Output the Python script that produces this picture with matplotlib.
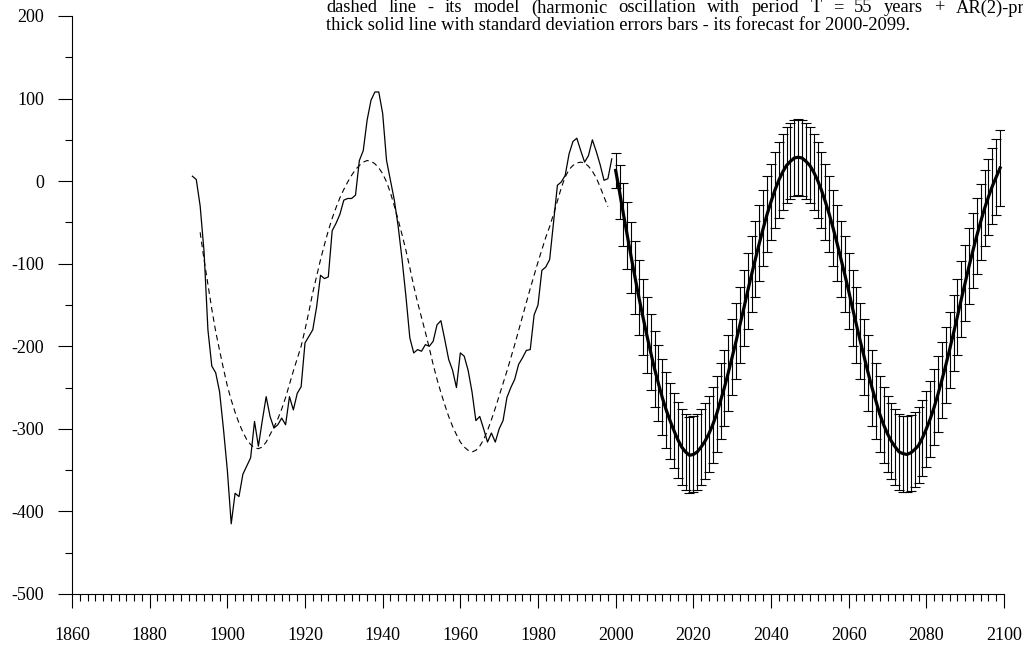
import matplotlib
matplotlib.use('Agg')
import matplotlib.pyplot as plt
from matplotlib.ticker import MultipleLocator

plt.rcParams['font.family'] = ['Liberation Serif', 'DejaVu Serif']
plt.rcParams['axes.unicode_minus'] = False

# observed series (thin solid line), 1891-1999
obs_start = 1891
obs_values = [
    6, 2, -30, -85, -180, -224, -232, -255, -300,            # 1891-1899
    -350, -415, -378, -382, -355, -345, -335, -291, -321, -290,  # 1900-1909
    -261, -285, -299, -295, -287, -295, -261, -277, -257, -249,  # 1910-1919
    -196, -188, -180, -152, -114, -118, -116, -60, -51, -40,     # 1920-1929
    -23, -21, -21, -17, 25, 37, 74, 98, 108, 108,                # 1930-1939
    82, 25, 1, -23, -55, -95, -140, -190, -208, -204,            # 1940-1949
    -206, -198, -200, -194, -174, -169, -192, -216, -229, -250,  # 1950-1959
    -208, -212, -229, -255, -290, -285, -300, -316, -305, -316,  # 1960-1969
    -300, -290, -262, -250, -240, -222, -214, -205, -204, -162,  # 1970-1979
    -150, -108, -104, -95, -50, -5, -1, 7, 33, 48,               # 1980-1989
    52, 37, 23, 31, 50, 36, 20, 1, 3, 27,                        # 1990-1999
]

# model (dashed line), 1893-1998
model_start = 1893
model_values = [
    -62, -95, -125, -155, -182, -205, -227,                      # 1893-1899
    -248, -265, -280, -293, -304, -313, -319, -323, -324, -322,  # 1900-1909
    -316, -307, -298, -288, -276, -262, -246, -230, -215, -200,  # 1910-1919
    -180, -158, -135, -115, -95, -77, -60, -45, -32, -20,        # 1920-1929
    -10, -1, 7, 14, 19, 23, 25, 24, 21, 16,                      # 1930-1939
    9, -1, -14, -30, -47, -65, -84, -105, -127, -147,            # 1940-1949
    -165, -183, -202, -222, -240, -256, -271, -285, -297, -307,  # 1950-1959
    -316, -322, -326, -328, -326, -321, -313, -302, -289, -275,  # 1960-1969
    -260, -245, -230, -214, -198, -181, -164, -147, -130, -114,  # 1970-1979
    -98, -83, -68, -55, -40, -24, -8, 5, 14, 19,                 # 1980-1989
    22, 23, 22, 18, 12, 4, -7, -19, -31,                         # 1990-1998
]

# forecast (thick line) with standard deviation, 2000-2099
fc_start = 2000
fc_values = [
    13, -13, -40, -66, -92, -117, -141, -164, -186, -207,        # 2000-2009
    -227, -245, -262, -277, -290, -302, -313, -322, -328, -332,  # 2010-2019
    -331, -328, -322, -315, -306, -295, -282, -266, -250, -232,  # 2020-2029
    -213, -194, -174, -154, -133, -113, -94, -75, -57, -40,      # 2030-2039
    -25, -11, 1, 11, 19, 24, 28, 29, 28, 24,                     # 2040-2049
    19, 11, 1, -11, -25, -40, -57, -75, -94, -113,               # 2050-2059
    -133, -154, -174, -194, -213, -232, -250, -266, -282, -295,  # 2060-2069
    -306, -315, -322, -328, -330, -331, -329, -325, -320, -311,  # 2070-2079
    -300, -288, -274, -258, -241, -223, -204, -184, -164, -143,  # 2080-2089
    -123, -103, -84, -66, -49, -33, -19, -6, 5, 16,              # 2090-2099
]
fc_errors = [21, 33, 38, 41, 43, 44, 45, 46] + [46] * 92

note_line1 = 'dashed line - its model (harmonic oscillation with period T = 55 years + AR(2)-process)'
note_line2 = 'thick solid line with standard deviation errors bars - its forecast for 2000-2099.'

obs_years = list(range(obs_start, obs_start + len(obs_values)))
model_years = list(range(model_start, model_start + len(model_values)))
fc_years = list(range(fc_start, fc_start + len(fc_values)))

W, H = 1023, 650
fig = plt.figure(figsize=(W / 100, H / 100), dpi=100)
ax = fig.add_axes([72 / W, 56 / H, 932 / W, 578 / H])

ax.plot(obs_years, obs_values, color='black', lw=0.9)
ax.plot(model_years, model_values, color='black', lw=0.8, dashes=(5, 3.5))
ax.errorbar(fc_years, fc_values, yerr=fc_errors, fmt='none', ecolor='black',
            elinewidth=0.8, capsize=3.5, capthick=0.8)
ax.plot(fc_years, fc_values, color='black', lw=2.3)

ax.set_xlim(1860, 2100)
ax.set_ylim(-500, 200)
for s in ('top', 'right'):
    ax.spines[s].set_visible(False)
for s in ('left', 'bottom'):
    ax.spines[s].set_linewidth(0.8)

ax.xaxis.set_major_locator(MultipleLocator(20))
ax.xaxis.set_minor_locator(MultipleLocator(2))
ax.yaxis.set_major_locator(MultipleLocator(100))
ax.yaxis.set_minor_locator(MultipleLocator(50))
ax.tick_params(axis='both', which='major', direction='out', length=10, width=0.8,
               labelsize=13)
ax.tick_params(axis='both', which='minor', direction='out', length=5, width=0.8)
ax.tick_params(axis='x', which='major', pad=14)
ax.tick_params(axis='y', which='major', pad=10)

# note text block (justified first visible line, last line left aligned)
fs = 13.3
renderer = fig.canvas.get_renderer()
space_px = 0.25 * fs * 100 / 72
extra_px = 6.6
x = 326.0
for word in note_line1.split(' '):
    t = fig.text(x / W, 1 - 12.5 / H, word, fontsize=fs, va='baseline', ha='left')
    bb = t.get_window_extent(renderer)
    x = bb.x1 + space_px + extra_px
fig.text(326 / W, 1 - 29.5 / H, note_line2, fontsize=fs, va='baseline', ha='left')

fig.savefig('out.png', dpi=100)
